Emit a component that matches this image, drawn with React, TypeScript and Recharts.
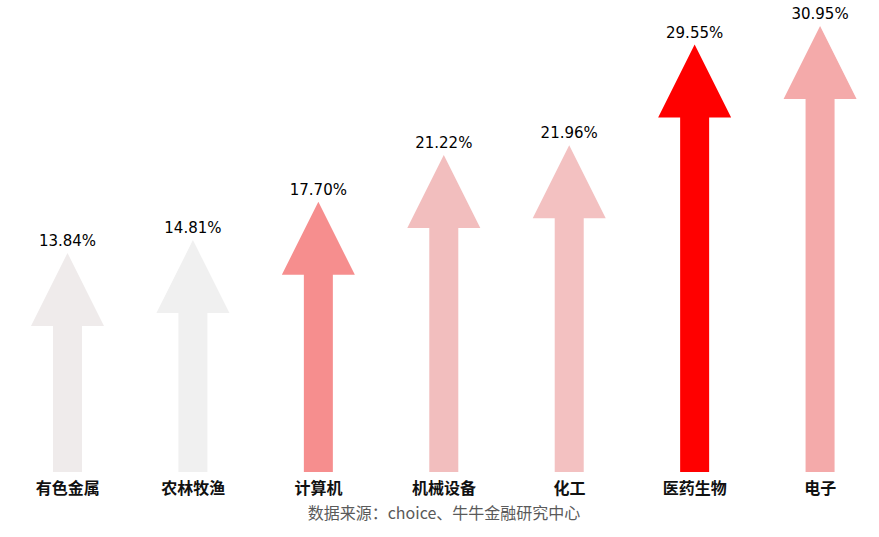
import React from 'react'
import { BarChart, Bar, XAxis, YAxis, Cell, LabelList } from 'recharts'

// industry names, gains (%) and the colour of each arrow
const categories = ['有色金属', '农林牧渔', '计算机', '机械设备', '化工', '医药生物', '电子']
const gains = [13.84, 14.81, 17.7, 21.22, 21.96, 29.55, 30.95]
const colors = ['#EFEBEB', '#F0F0F0', '#F68E8E', '#F2BEBE', '#F3C1C1', '#FF0000', '#F4AAAA']

// axis floor: arrows start below zero in the original
const AXIS_MIN = -2.67
const AXIS_MAX = 30.95

// range bars so every arrow starts at the axis floor
const data = categories.map((name, i) => ({ name, gain: gains[i], range: [AXIS_MIN, gains[i]] }))

const HEAD_W = 73
const HEAD_H = 73
const SHAFT_W = 29

// arrow-shaped bar
const Arrow = (props: any) => {
	const { x, y, width, height, index } = props
	const top = Math.min(y, y + height)
	const bottom = Math.max(y, y + height)
	const cx = x + width / 2
	const headBase = top + HEAD_H
	const points = [
		[cx, top],
		[cx + HEAD_W / 2, headBase],
		[cx + SHAFT_W / 2, headBase],
		[cx + SHAFT_W / 2, bottom],
		[cx - SHAFT_W / 2, bottom],
		[cx - SHAFT_W / 2, headBase],
		[cx - HEAD_W / 2, headBase],
	]
		.map((p) => p.join(','))
		.join(' ')
	return <polygon points={points} fill={colors[index]} />
}

const CategoryTick = (props: any) => {
	const { x, y, payload } = props
	return (
		<text
			x={x}
			y={y + 14}
			textAnchor="middle"
			fontFamily='"Noto Sans CJK SC", sans-serif'
			fontWeight={700}
			fontSize={16}
			fill="#111"
		>
			{payload.value}
		</text>
	)
}

const ValueLabel = (props: any) => {
	const { x, y, width, height, value } = props
	const top = Math.min(y, y + height)
	return (
		<text
			x={x + width / 2}
			y={top - 7}
			textAnchor="middle"
			fontFamily='"DejaVu Sans", sans-serif'
			fontSize={15}
			fill="#000"
		>
			{Number(value).toFixed(2)}%
		</text>
	)
}

export default function App() {
	return (
		<div
			style={{
				position: 'absolute',
				left: 0,
				top: 0,
				width: 879,
				height: 537,
				overflow: 'hidden',
				background: '#fff',
			}}
		>
			<BarChart
				width={890}
				height={537}
				data={data}
				margin={{ top: 26, right: 7, bottom: 0, left: 5 }}
				barCategoryGap={0}
			>
				<XAxis
					dataKey="name"
					axisLine={false}
					tickLine={false}
					height={65}
					interval={0}
					tick={<CategoryTick />}
				/>
				<YAxis hide domain={[AXIS_MIN, AXIS_MAX]} />
				<Bar dataKey="range" isAnimationActive={false} shape={<Arrow />}>
					{data.map((d, i) => (
						<Cell key={d.name} fill={colors[i]} />
					))}
					<LabelList dataKey="gain" content={<ValueLabel />} />
				</Bar>
			</BarChart>
			<div
				style={{
					position: 'absolute',
					left: 0,
					width: 888,
					top: 502,
					textAlign: 'center',
					fontFamily: '"Noto Sans CJK SC", sans-serif',
					fontSize: 16,
					lineHeight: '20px',
					color: '#5a5a5a',
				}}
			>
				数据来源：choice、牛牛金融研究中心
			</div>
		</div>
	)
}
